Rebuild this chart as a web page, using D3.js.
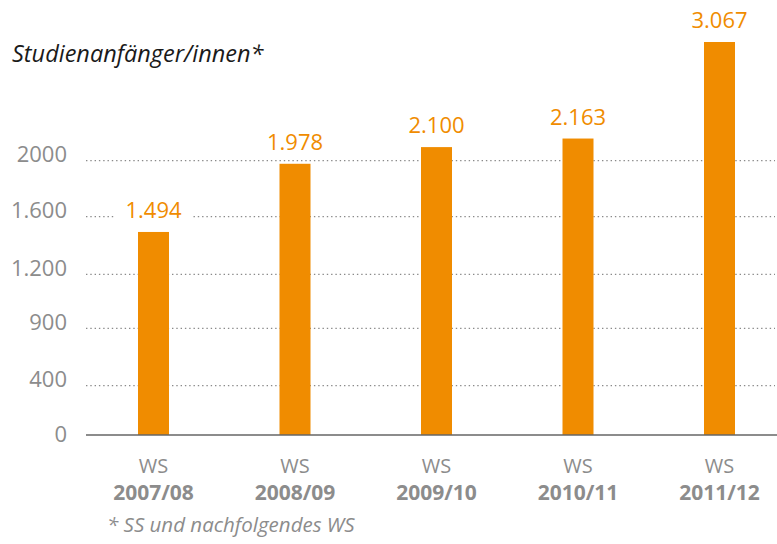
<!DOCTYPE html>
<html>
<head>
<meta charset="utf-8">
<script src="https://cdn.jsdelivr.net/npm/d3@7"></script>
<style>
  body { margin: 0; background: #fff; }
  svg { display: block; }
</style>
</head>
<body>
<div id="chart"></div>
<script>
// Studienanfänger/innen je Wintersemester
const semesters = ['2007/08', '2008/09', '2009/10', '2010/11', '2011/12'];
const anfaenger = [1494, 1978, 2100, 2163, 3067];
const tickValues = [0, 400, 900, 1200, 1600, 2000];
const tickLabels = ['0', '400', '900', '1.200', '1.600', '2000'];

const W = 777, H = 544;
const grey = '#8c8c8c';
const orange = '#f08c00';
const font = '"Open Sans", "Noto Sans", sans-serif';

const de = d3.formatLocale({ decimal: ',', thousands: '.', grouping: [3], currency: ['', ' €'] });
const fmt = de.format(',');

const svg = d3.select('#chart').append('svg')
    .attr('width', W).attr('height', H)
    .style('font-family', font);

// the original axis is not evenly spaced, so map it piecewise
const y = d3.scaleLinear()
    .domain(tickValues.concat([2200, d3.max(anfaenger)]))
    .range([435, 385.7, 328.3, 274.3, 216.7, 160.7, 133.5, 42]);

const x = d3.scaleBand()
    .domain(semesters)
    .range([82.75, 790.25]);
const barW = 31;

// title
svg.append('text')
    .attr('x', 12).attr('y', 62)
    .attr('font-size', 23.5).attr('font-style', 'italic')
    .attr('fill', '#1a1a1a')
    .text('Studienanfänger/innen*');

// gridlines
svg.append('g')
    .selectAll('line')
    .data(tickValues.filter(d => d > 0))
    .join('line')
    .attr('x1', 86).attr('x2', 775)
    .attr('y1', d => y(d)).attr('y2', d => y(d))
    .attr('stroke', '#8a8a8a')
    .attr('stroke-width', 1.2)
    .attr('stroke-dasharray', '1.4,2.9');

// y tick labels
svg.append('g')
    .selectAll('text')
    .data(tickValues)
    .join('text')
    .attr('x', 67)
    .attr('y', d => y(d) + (d === 0 ? 7 : 1.5))
    .attr('text-anchor', 'end')
    .attr('font-size', 22)
    .attr('fill', grey)
    .text((d, i) => tickLabels[i]);

const data = semesters.map((s, i) => ({ s, v: anfaenger[i] }));

// bars
svg.append('g')
    .selectAll('rect')
    .data(data)
    .join('rect')
    .attr('x', d => x(d.s) + x.bandwidth() / 2 - barW / 2)
    .attr('width', barW)
    .attr('y', d => y(d.v))
    .attr('height', d => y(0) - y(d.v))
    .attr('fill', orange);

// baseline
svg.append('line')
    .attr('x1', 86).attr('x2', W)
    .attr('y1', y(0)).attr('y2', y(0))
    .attr('stroke', '#666').attr('stroke-width', 1.5);

// value labels with white knock-out behind them
const lab = svg.append('g')
    .selectAll('g')
    .data(data)
    .join('g')
    .attr('transform', d => `translate(${x(d.s) + x.bandwidth() / 2},${y(d.v) - 14})`);

lab.append('rect').attr('fill', '#fff');
lab.append('text')
    .attr('text-anchor', 'middle')
    .attr('font-size', 22)
    .attr('fill', orange)
    .text(d => fmt(d.v));
lab.each(function() {
    const t = d3.select(this).select('text').node().getBBox();
    d3.select(this).select('rect')
        .attr('x', t.x - 10).attr('y', t.y)
        .attr('width', t.width + 20).attr('height', t.height);
});

// x labels
const xl = svg.append('g')
    .selectAll('g')
    .data(semesters)
    .join('g')
    .attr('transform', d => `translate(${x(d) + x.bandwidth() / 2},0)`)
    .attr('text-anchor', 'middle')
    .attr('fill', grey);
xl.append('text').attr('y', 473).attr('font-size', 20).text('WS');
xl.append('text').attr('y', 500).attr('font-size', 21).attr('font-weight', 700).text(d => d);

// footnote
svg.append('text')
    .attr('x', 107).attr('y', 532)
    .attr('font-size', 20.5).attr('font-style', 'italic')
    .attr('fill', grey)
    .text('* SS und nachfolgendes WS');
</script>
</body>
</html>
